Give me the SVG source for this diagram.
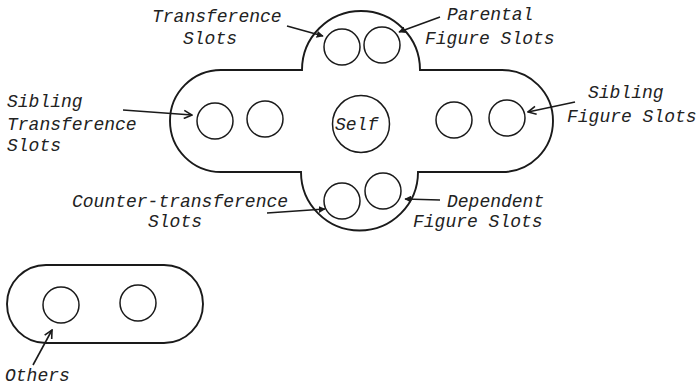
<svg xmlns="http://www.w3.org/2000/svg" width="699" height="386" viewBox="0 0 699 386">
  <style>
    .outline { fill: none; stroke: #1a1a1a; stroke-width: 1.9; }
    .slot { fill: none; stroke: #1a1a1a; stroke-width: 1.5; }
    .lbl { font-family: "Liberation Mono", "Courier New", monospace; font-style: italic; font-size: 18px; fill: #222; }
    .ptr { fill: none; stroke: #1a1a1a; stroke-width: 1.6; }
  </style>
  <defs>
    <marker id="solid" viewBox="0 0 10 10" refX="9" refY="5" markerWidth="7" markerHeight="7" markerUnits="userSpaceOnUse" orient="auto">
      <path d="M0,0 L10,5 L0,10 z" fill="#1a1a1a"/>
    </marker>
    <marker id="open" viewBox="0 0 10 10" refX="9" refY="5" markerWidth="10" markerHeight="10" markerUnits="userSpaceOnUse" orient="auto">
      <path d="M1,1 L9,5 L1,9" fill="none" stroke="#1a1a1a" stroke-width="1.6"/>
    </marker>
  </defs>

  <!-- Self with its surrounding slots -->
  <g id="self-structure">
    <path class="outline" d="M221,70 L302,70 A59,59 0 0 1 420,70 L502,70 A51,51 0 0 1 502,172 L418,172 A58.5,58.5 0 0 1 301,172 L221,172 A51,51 0 0 1 221,70 Z"/>
  </g>

  <g id="self">
    <circle class="slot" cx="361" cy="124" r="28.5"/>
    <text class="lbl" x="335" y="130">Self</text>
  </g>

  <g id="transference-slots">
    <circle class="slot" cx="342" cy="47" r="18"/>
    <text class="lbl" x="152" y="22">Transference</text>
    <text class="lbl" x="183" y="44">Slots</text>
  </g>

  <g id="parental-figure-slots">
    <circle class="slot" cx="382" cy="45" r="18"/>
    <text class="lbl" x="447" y="20">Parental</text>
    <text class="lbl" x="425" y="44">Figure Slots</text>
  </g>

  <g id="sibling-transference-slots">
    <circle class="slot" cx="215" cy="121" r="18"/>
    <circle class="slot" cx="265" cy="119" r="18"/>
    <text class="lbl" x="7" y="107">Sibling</text>
    <text class="lbl" x="7" y="130">Transference</text>
    <text class="lbl" x="7" y="151">Slots</text>
  </g>

  <g id="sibling-figure-slots">
    <circle class="slot" cx="454" cy="120" r="18"/>
    <circle class="slot" cx="507" cy="118" r="18"/>
    <text class="lbl" x="588" y="98">Sibling</text>
    <text class="lbl" x="567" y="122">Figure Slots</text>
  </g>

  <g id="counter-transference-slots">
    <circle class="slot" cx="342" cy="201" r="18"/>
    <text class="lbl" x="72" y="207">Counter-transference</text>
    <text class="lbl" x="148" y="227">Slots</text>
  </g>

  <g id="dependent-figure-slots">
    <circle class="slot" cx="383" cy="191" r="18"/>
    <text class="lbl" x="447" y="207">Dependent</text>
    <text class="lbl" x="413" y="227">Figure Slots</text>
  </g>

  <g id="others">
    <path class="outline" d="M46,265 L164,265 A39,39 0 0 1 164,343 L46,343 A39,39 0 0 1 46,265 Z"/>
    <circle class="slot" cx="61" cy="305" r="18"/>
    <circle class="slot" cx="138" cy="303" r="18"/>
    <text class="lbl" x="5" y="381">Others</text>
  </g>

  <!-- label pointers -->
  <g id="connectors">
    <line class="ptr" x1="287" y1="26" x2="323" y2="36" marker-end="url(#solid)"/>
    <line class="ptr" x1="440" y1="17" x2="399" y2="32" marker-end="url(#solid)"/>
    <line class="ptr" x1="123" y1="110" x2="192" y2="115" marker-end="url(#open)"/>
    <line class="ptr" x1="575" y1="102" x2="528" y2="112" marker-end="url(#open)"/>
    <line class="ptr" x1="267" y1="213" x2="325" y2="209" marker-end="url(#solid)"/>
    <line class="ptr" x1="440" y1="200" x2="405" y2="199" marker-end="url(#solid)"/>
    <line class="ptr" x1="33" y1="365" x2="52" y2="330" marker-end="url(#open)"/>
  </g>
</svg>
